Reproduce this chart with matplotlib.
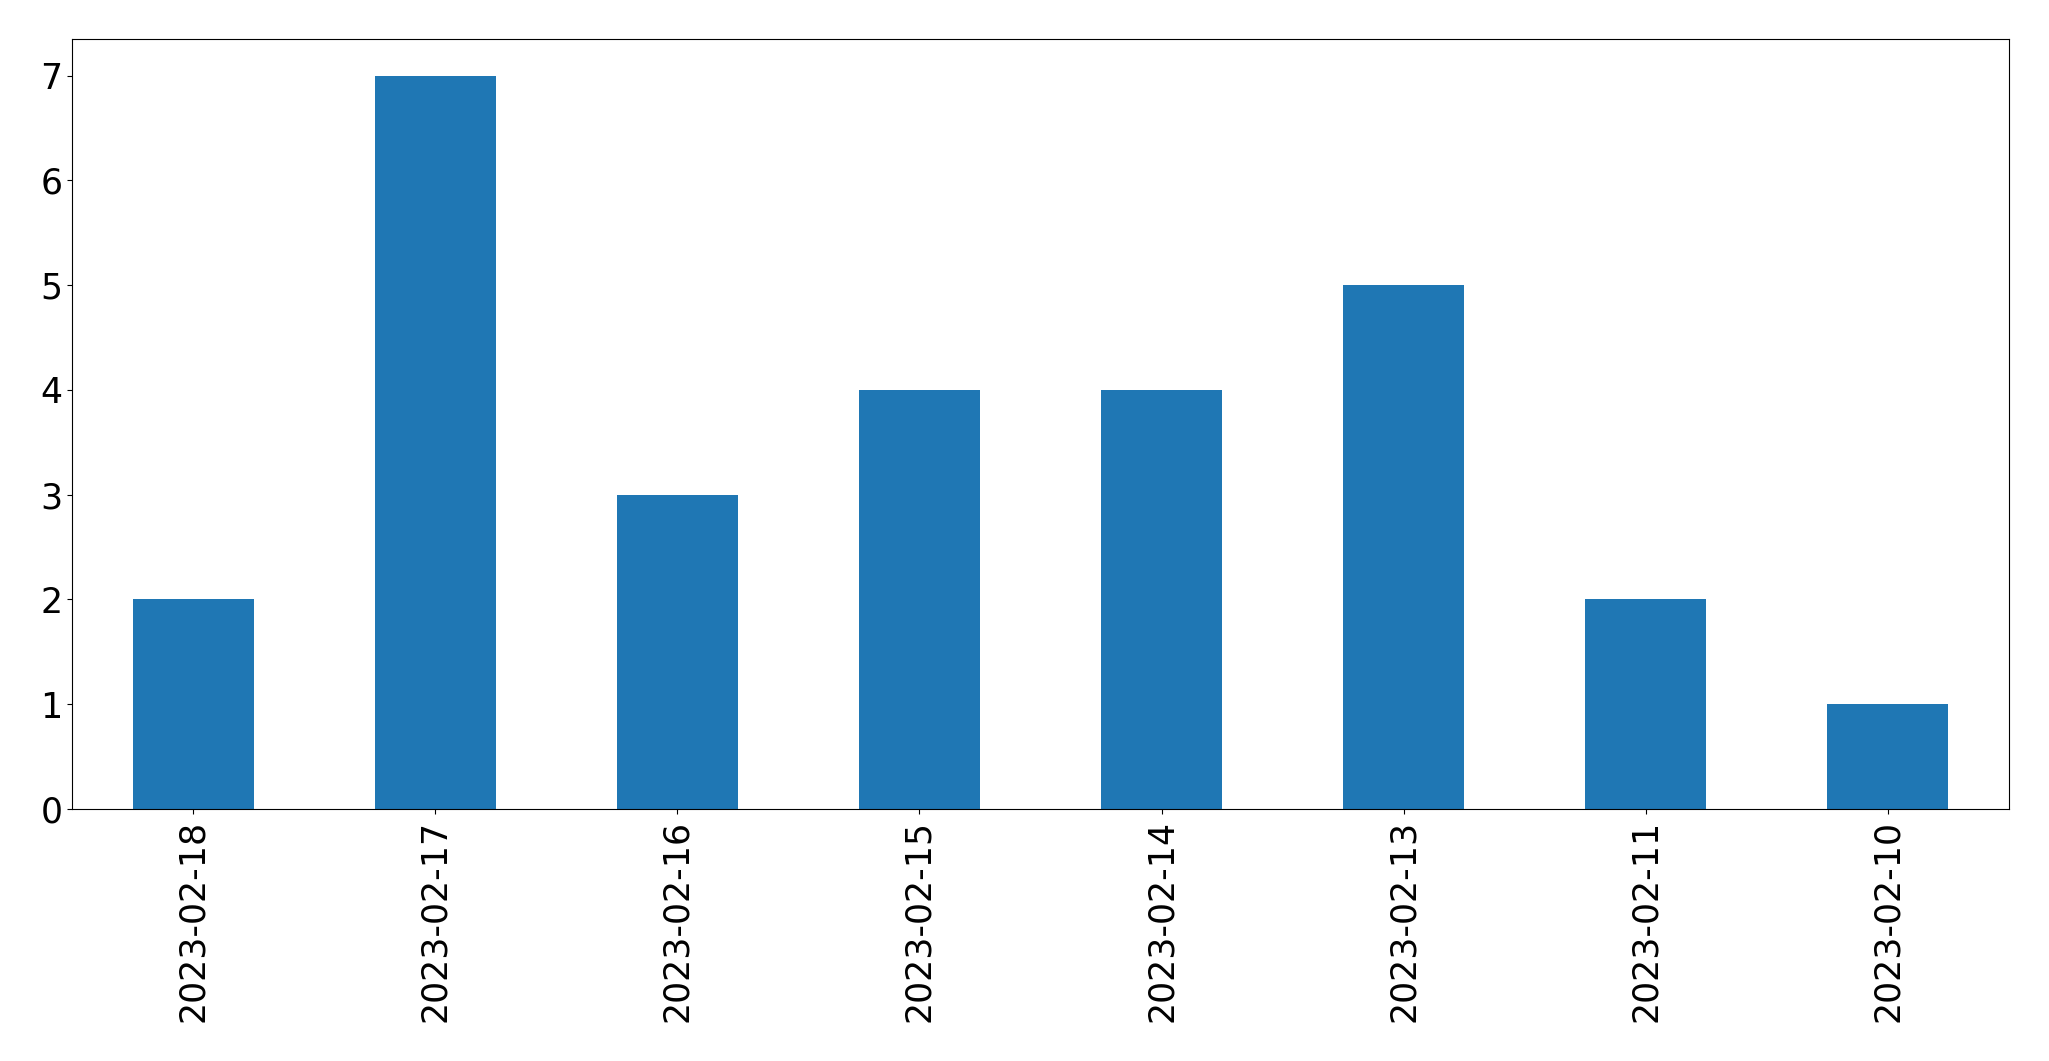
import matplotlib
matplotlib.use('Agg')
import matplotlib.pyplot as plt
import numpy as np

# Data
dates = ['2023-02-18', '2023-02-17', '2023-02-16', '2023-02-15',
         '2023-02-14', '2023-02-13', '2023-02-11', '2023-02-10']
counts = [2, 7, 3, 4, 4, 5, 2, 1]

W, H = 2049, 1061
fig = plt.figure(figsize=(W / 100, H / 100), dpi=100)
ax = fig.add_axes([72 / W, 1 - 809 / H, (2009 - 72) / W, (809 - 39) / H])

x = np.arange(len(dates))
ax.bar(x, counts, width=0.5, color='#1f77b4')
ax.set_xlim(-0.5, len(dates) - 0.5)
ax.set_ylim(0, 7.35)
ax.set_xticks(x)
ax.set_xticklabels(dates, rotation=90)
ax.tick_params(labelsize=25)
ax.tick_params(axis='x', pad=4.5)

fig.savefig('out.png', dpi=100)
